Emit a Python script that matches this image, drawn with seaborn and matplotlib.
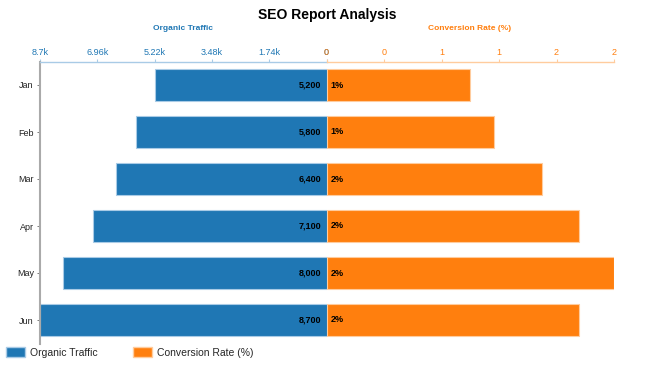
import numpy as np
import pandas as pd
import matplotlib.pyplot as plt
import seaborn as sns
from matplotlib.patches import Patch

# ---- data ----
months = ['Jan', 'Feb', 'Mar', 'Apr', 'May', 'Jun']
organic_traffic = [5200, 5800, 6400, 7100, 8000, 8700]
conversion_rate = [1.1, 1.28, 1.65, 1.93, 2.2, 1.93]

traffic_ticks = [8700, 6960, 5220, 3480, 1740, 0]
traffic_tick_labels = ['8.7k', '6.96k', '5.22k', '3.48k', '1.74k', '0']
rate_ticks = [0, 0.44, 0.88, 1.32, 1.76, 2.2]
rate_tick_labels = ['0', '0', '1', '1', '2', '2']

BLUE = '#1f77b4'
ORANGE = '#ff7f0e'
BLUE_LIGHT = '#a9cbe6'
ORANGE_LIGHT = '#ffcc9e'

sns.set_style('white')
plt.rcParams['font.family'] = ['Liberation Sans', 'DejaVu Sans']

df = pd.DataFrame({'month': months, 'traffic': organic_traffic, 'rate': conversion_rate})

fig = plt.figure(figsize=(6.5, 3.71), dpi=100)
W, H = 650, 371
top, bottom = 61.5, 343.5
ax_l = fig.add_axes([40 / W, 1 - bottom / H, 286.5 / W, (bottom - top) / H])
ax_r = fig.add_axes([326.5 / W, 1 - bottom / H, 287.5 / W, (bottom - top) / H])

sns.barplot(data=df, x='traffic', y='month', color=BLUE, saturation=1, width=0.66,
            edgecolor=BLUE_LIGHT, linewidth=0.8, ax=ax_l)
sns.barplot(data=df, x='rate', y='month', color=ORANGE, saturation=1, width=0.66,
            edgecolor=ORANGE_LIGHT, linewidth=0.8, ax=ax_r)

ax_l.set_xlim(max(organic_traffic), 0)
ax_r.set_xlim(0, max(conversion_rate))
for ax in (ax_l, ax_r):
    ax.set_ylim(len(months) - 0.5, -0.5)
    ax.set_xlabel('')
    ax.set_ylabel('')
    ax.xaxis.tick_top()
    ax.spines['bottom'].set_visible(False)
    ax.spines['right'].set_visible(False)
    ax.set_facecolor('none')

# left (traffic) axis
ax_l.set_xticks(traffic_ticks)
ax_l.set_xticklabels(traffic_tick_labels)
ax_l.tick_params(axis='x', colors=BLUE_LIGHT, labelcolor=BLUE, labelsize=6.5,
                 length=2.2, width=0.8, pad=1.0)
ax_l.spines['top'].set_color(BLUE_LIGHT)
ax_l.spines['top'].set_linewidth(1.0)
ax_l.spines['left'].set_color('#aaaaaa')
ax_l.spines['left'].set_linewidth(1.5)
ax_l.tick_params(axis='y', colors='#666666', labelcolor='#222222', labelsize=6.5,
                 length=2.5, width=0.6, pad=2, left=True)

# right (conversion) axis
ax_r.set_xticks(rate_ticks)
ax_r.set_xticklabels(rate_tick_labels)
ax_r.tick_params(axis='x', colors=ORANGE_LIGHT, labelcolor=ORANGE, labelsize=6.5,
                 length=2.2, width=0.8, pad=1.0)
ax_r.spines['top'].set_color(ORANGE_LIGHT)
ax_r.spines['top'].set_linewidth(1.0)
ax_r.spines['left'].set_visible(False)
ax_r.set_yticks([])

# value labels next to the centre line
for i, v in enumerate(organic_traffic):
    ax_l.annotate(f'{v:,}', xy=(0, i), xytext=(-4, 0), textcoords='offset points',
                  ha='right', va='center', fontsize=6.5, fontweight='bold', color='black')
for i, v in enumerate(conversion_rate):
    ax_r.annotate(f'{v:.0f}%', xy=(0, i), xytext=(3, 0), textcoords='offset points',
                  ha='left', va='center', fontsize=6.5, fontweight='bold', color='black')

fig.text(327 / W, 1 - 14.5 / H, 'SEO Report Analysis', ha='center', va='center',
         fontsize=10, fontweight='bold', color='black')
fig.text(183 / W, 1 - 28 / H, 'Organic Traffic', ha='center', va='center',
         fontsize=6, fontweight='bold', color=BLUE)
fig.text(470 / W, 1 - 28 / H, 'Conversion Rate (%)', ha='center', va='center',
         fontsize=6, fontweight='bold', color=ORANGE)

handles = [Patch(facecolor=BLUE, edgecolor=BLUE_LIGHT, label='Organic Traffic'),
           Patch(facecolor=ORANGE, edgecolor=ORANGE_LIGHT, label='Conversion Rate (%)')]
fig.legend(handles=handles, loc='center left', bbox_to_anchor=(0, 1 - 352.5 / H), ncol=2,
           frameon=False, fontsize=7.5, handlelength=1.8, handleheight=1.0,
           handletextpad=0.5, columnspacing=3.4, borderpad=0, borderaxespad=0.6)

fig.savefig('out.png', dpi=100)
